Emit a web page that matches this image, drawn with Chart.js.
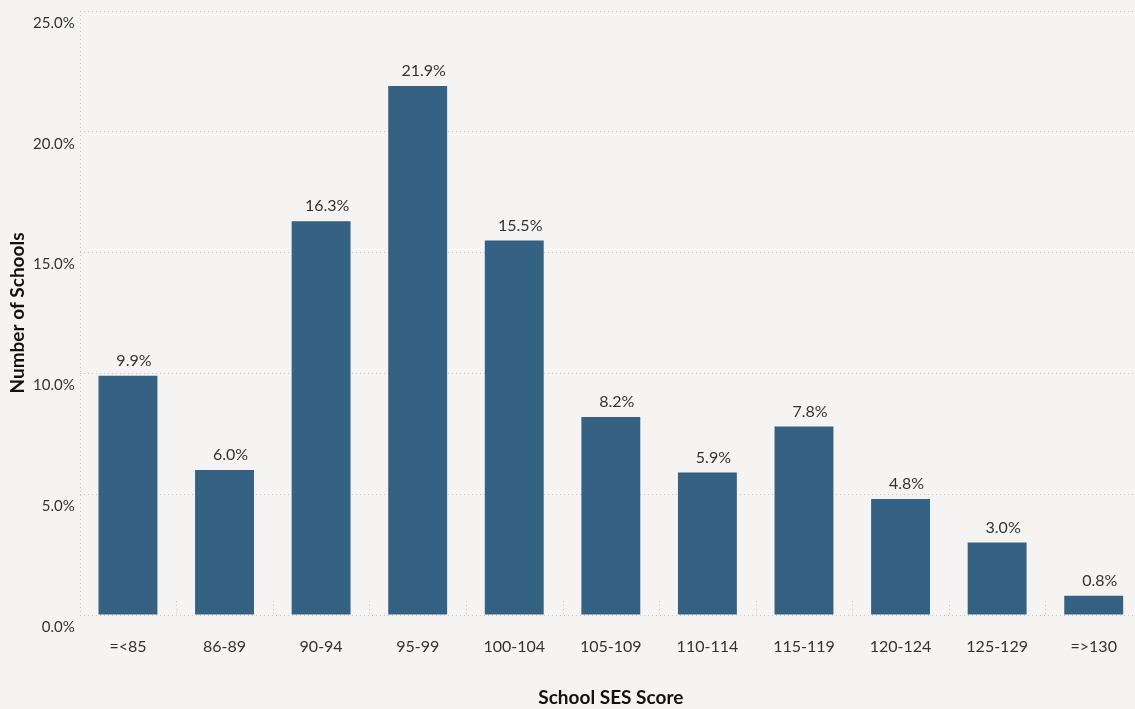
<!DOCTYPE html>
<html>
<head>
<meta charset="utf-8">
<script src="https://cdn.jsdelivr.net/npm/chart.js@4/dist/chart.umd.min.js"></script>
<style>
  html, body { margin: 0; padding: 0; background: #f5f4f2; overflow: hidden; }
  #wrap { width: 1142px; height: 709px; }
</style>
</head>
<body>
<div id="wrap"><canvas id="sesChart"></canvas></div>
<script>
const categories = ['=<85', '86-89', '90-94', '95-99', '100-104', '105-109', '110-114', '115-119', '120-124', '125-129', '=>130'];
const shares = [9.9, 6.0, 16.3, 21.9, 15.5, 8.2, 5.9, 7.8, 4.8, 3.0, 0.8];
const yTicks = [0, 5, 10, 15, 20, 25];

const FONT = 'Lato, "Open Sans", sans-serif';
const TEXT = '#333333';
const GRID = '#c4c4c4';
const DOTS = [1, 3];

// value labels above each bar
const barLabels = {
  id: 'barLabels',
  afterDatasetsDraw(chart) {
    const ctx = chart.ctx;
    const meta = chart.getDatasetMeta(0);
    ctx.save();
    ctx.font = '16px ' + FONT;
    ctx.fillStyle = TEXT;
    ctx.textAlign = 'center';
    ctx.textBaseline = 'bottom';
    meta.data.forEach((bar, i) => {
      ctx.fillText(shares[i].toFixed(1) + '%', bar.x + 6, bar.y - 7);
    });
    ctx.restore();
  }
};

// dotted left edge and short dotted separators between categories
const separators = {
  id: 'separators',
  beforeDatasetsDraw(chart) {
    const ctx = chart.ctx;
    const x = chart.scales.x;
    const { left, top, bottom } = chart.chartArea;
    ctx.save();
    ctx.strokeStyle = GRID;
    ctx.lineWidth = 1;
    ctx.setLineDash(DOTS);
    ctx.beginPath();
    ctx.moveTo(Math.round(left) + 0.5, top);
    ctx.lineTo(Math.round(left) + 0.5, bottom);
    ctx.stroke();
    for (let i = 1; i < categories.length; i++) {
      const px = Math.round((x.getPixelForValue(i - 1) + x.getPixelForValue(i)) / 2) + 0.5;
      ctx.beginPath();
      ctx.moveTo(px, bottom - 14);
      ctx.lineTo(px, bottom);
      ctx.stroke();
    }
    ctx.restore();
  }
};

new Chart(document.getElementById('sesChart'), {
  type: 'bar',
  data: {
    labels: categories,
    datasets: [{
      data: shares,
      backgroundColor: '#356282',
      categoryPercentage: 1,
      barPercentage: 0.61
    }]
  },
  options: {
    responsive: true,
    maintainAspectRatio: false,
    animation: false,
    layout: { padding: { top: 10, right: 0, left: 8, bottom: 0 } },
    plugins: {
      legend: { display: false },
      tooltip: { enabled: false }
    },
    scales: {
      x: {
        grid: { display: false, drawTicks: false },
        border: { display: false },
        ticks: { color: TEXT, font: { family: FONT, size: 16 }, padding: 22, maxRotation: 0 },
        title: {
          display: true,
          text: 'School SES Score',
          color: '#111',
          font: { family: FONT, size: 19, weight: 'bold' },
          padding: { top: 8, bottom: 0 }
        }
      },
      y: {
        min: 0,
        max: 25,
        afterBuildTicks(axis) { axis.ticks = yTicks.map(v => ({ value: v })); },
        grid: { color: GRID, drawTicks: false },
        border: { display: false, dash: DOTS },
        ticks: {
          color: TEXT,
          font: { family: FONT, size: 15, lineHeight: 0.8 },
          padding: 5,
          labelOffset: 12,
          callback: v => v.toFixed(1) + '%'
        },
        title: {
          display: true,
          text: 'Number of Schools',
          color: '#111',
          font: { family: FONT, size: 19, weight: 'bold', lineHeight: 1 },
          padding: { top: 0, bottom: 1 }
        }
      }
    }
  },
  plugins: [separators, barLabels]
});
</script>
</body>
</html>
